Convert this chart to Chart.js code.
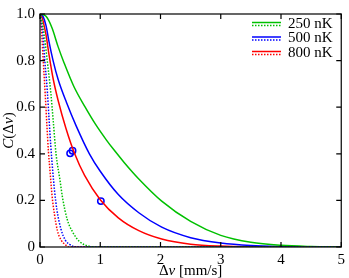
<!DOCTYPE html>
<html lang="en">
<head>
    <meta charset="UTF-8">
    <title>C(Δv) correlation</title>
    <script src="https://cdn.jsdelivr.net/npm/chart.js@4.4.1/dist/chart.umd.min.js"></script>
    <style>
        body { margin: 0; background: #fff; }
        #wrap { width: 349px; height: 278px; }
    </style>
</head>
<body>
    <div id="wrap"><canvas id="chart"></canvas></div>

    <script>
        // legend labels
        const tempLabels = ['250 nK', '500 nK', '800 nK'];

        // solid curves, Δv in mm/s
        const solid250X = [0, 0.1, 0.2, 0.3, 0.4, 0.56, 0.75, 0.92, 1.1, 1.23, 1.4, 1.64, 2.02, 2.5, 3.0, 3.5, 4.0, 4.5, 5.0];
        const solid250Y = [1, 0.99, 0.94, 0.86, 0.79, 0.69, 0.6, 0.527, 0.46, 0.416, 0.362, 0.292, 0.197, 0.11, 0.05, 0.02, 0.007, 0.002, 0];
        const solid500X = [0, 0.05, 0.1, 0.15, 0.217, 0.3, 0.44, 0.6, 0.82, 1.0, 1.3, 1.64, 2.02, 2.5, 3.0, 3.5, 4.0, 5.0];
        const solid500Y = [1, 0.99, 0.95, 0.88, 0.8, 0.72, 0.62, 0.52, 0.4, 0.325, 0.225, 0.147, 0.085, 0.04, 0.017, 0.006, 0.002, 0];
        const solid800X = [0, 0.03, 0.06, 0.1, 0.15, 0.22, 0.3, 0.43, 0.576, 0.74, 1.0, 1.3, 1.64, 2.02, 2.5, 3.0, 4.0, 5.0];
        const solid800Y = [1, 0.99, 0.96, 0.91, 0.825, 0.72, 0.63, 0.51, 0.4, 0.307, 0.203, 0.125, 0.07, 0.034, 0.012, 0.004, 0, 0];

        // dotted curves
        const dot250X = [0, 0.03, 0.07, 0.12, 0.18, 0.22, 0.266, 0.33, 0.375, 0.45, 0.54, 0.65, 0.8, 1.0, 5.0];
        const dot250Y = [1, 0.97, 0.91, 0.8, 0.66, 0.54, 0.4, 0.29, 0.21, 0.12, 0.065, 0.025, 0.004, 0, 0];
        const dot500X = [0, 0.02, 0.05, 0.08, 0.124, 0.15, 0.18, 0.21, 0.24, 0.28, 0.35, 0.42, 0.5, 0.6, 5.0];
        const dot500Y = [1, 0.97, 0.91, 0.8, 0.66, 0.55, 0.43, 0.33, 0.245, 0.16, 0.075, 0.03, 0.01, 0, 0];
        const dot800X = [0, 0.015, 0.03, 0.054, 0.09, 0.115, 0.14, 0.168, 0.2, 0.24, 0.29, 0.35, 0.42, 0.48, 5.0];
        const dot800Y = [1, 0.97, 0.91, 0.8, 0.64, 0.52, 0.41, 0.32, 0.22, 0.14, 0.069, 0.03, 0.01, 0, 0];

        // measured points
        const markX = [0.50, 0.54, 1.01];
        const markY = [0.402, 0.413, 0.197];

        const xTicks = [0, 1, 2, 3, 4, 5];
        const yTicks = [0, 0.2, 0.4, 0.6, 0.8, 1];

        const colors = ['#00c000', '#0000ff', '#ff0000'];
        const FONT = 'Liberation Serif';
        const DOTS = [1.5, 1.5];

        function pts(xs, ys) {
            return xs.map((x, i) => ({ x: x, y: ys[i] }));
        }

        function curve(xs, ys, color, dotted) {
            return {
                type: 'line',
                data: pts(xs, ys),
                borderColor: color,
                borderWidth: 1.5,
                borderDash: dotted ? DOTS : [],
                pointRadius: 0,
                cubicInterpolationMode: 'monotone',
                fill: false
            };
        }

        // box, inward ticks, axis titles and legend
        const framePlugin = {
            id: 'frame',
            afterDraw(chart) {
                const ctx = chart.ctx;
                const a = chart.chartArea;
                const sx = chart.scales.x, sy = chart.scales.y;
                ctx.save();
                ctx.strokeStyle = '#000';
                ctx.lineWidth = 1.2;
                ctx.strokeRect(a.left, a.top, a.right - a.left, a.bottom - a.top);
                ctx.beginPath();
                xTicks.forEach(v => {
                    const px = sx.getPixelForValue(v);
                    ctx.moveTo(px, a.bottom); ctx.lineTo(px, a.bottom - 5);
                    ctx.moveTo(px, a.top); ctx.lineTo(px, a.top + 5);
                });
                yTicks.forEach(v => {
                    const py = sy.getPixelForValue(v);
                    ctx.moveTo(a.left, py); ctx.lineTo(a.left + 5, py);
                    ctx.moveTo(a.right, py); ctx.lineTo(a.right - 5, py);
                });
                ctx.stroke();

                // mixed upright / italic text
                function rich(parts, x, y) {
                    let w = 0;
                    parts.forEach(p => {
                        ctx.font = (p[1] ? 'italic ' : '') + '15px "' + FONT + '"';
                        w += ctx.measureText(p[0]).width;
                    });
                    let cx = x - w / 2;
                    parts.forEach(p => {
                        ctx.font = (p[1] ? 'italic ' : '') + '15px "' + FONT + '"';
                        ctx.fillText(p[0], cx, y);
                        cx += ctx.measureText(p[0]).width;
                    });
                }
                ctx.fillStyle = '#000';
                ctx.textBaseline = 'middle';
                ctx.textAlign = 'left';
                rich([['Δ', false], ['v', true], [' [mm/s]', false]], (a.left + a.right) / 2, 271);
                ctx.save();
                ctx.translate(9, (a.top + a.bottom) / 2);
                ctx.rotate(-Math.PI / 2);
                rich([['C', true], ['(Δ', false], ['v', true], [')', false]], 0, 0);
                ctx.restore();

                // legend: solid and dotted sample per temperature
                tempLabels.forEach((lab, i) => {
                    const cy = 24 + i * 14.5;
                    ctx.strokeStyle = colors[i];
                    ctx.lineWidth = 1.5;
                    ctx.setLineDash([]);
                    ctx.beginPath();
                    ctx.moveTo(252, cy - 1.5); ctx.lineTo(281, cy - 1.5);
                    ctx.stroke();
                    ctx.setLineDash(DOTS);
                    ctx.beginPath();
                    ctx.moveTo(252, cy + 1.5); ctx.lineTo(281, cy + 1.5);
                    ctx.stroke();
                    ctx.setLineDash([]);
                    ctx.font = '15px "' + FONT + '"';
                    ctx.fillStyle = '#000';
                    ctx.fillText(lab, 288, cy);
                });
                ctx.restore();
            }
        };

        new Chart(document.getElementById('chart'), {
            type: 'line',
            data: {
                datasets: [
                    curve(dot250X, dot250Y, colors[0], true),
                    curve(dot500X, dot500Y, colors[1], true),
                    curve(dot800X, dot800Y, colors[2], true),
                    curve(solid250X, solid250Y, colors[0], false),
                    curve(solid500X, solid500Y, colors[1], false),
                    curve(solid800X, solid800Y, colors[2], false),
                    {
                        type: 'scatter',
                        data: pts(markX, markY),
                        pointRadius: 3.2,
                        pointBorderWidth: 1.5,
                        pointBorderColor: '#0000ff',
                        pointBackgroundColor: 'rgba(0,0,0,0)',
                        showLine: false
                    }
                ]
            },
            options: {
                responsive: true,
                maintainAspectRatio: false,
                animation: false,
                layout: { padding: { top: 5, right: 3, left: 0, bottom: 0 } },
                plugins: { legend: { display: false }, tooltip: { enabled: false } },
                scales: {
                    x: {
                        type: 'linear',
                        min: 0,
                        max: 5,
                        grid: { display: false, drawTicks: false },
                        border: { display: false },
                        ticks: {
                            stepSize: 1,
                            padding: 4,
                            color: '#000',
                            font: { family: FONT, size: 15 }
                        },
                        afterFit(scale) { scale.height = 31; }
                    },
                    y: {
                        min: 0,
                        max: 1,
                        grid: { display: false, drawTicks: false },
                        border: { display: false },
                        ticks: {
                            stepSize: 0.2,
                            padding: 5,
                            color: '#000',
                            font: { family: FONT, size: 15 }
                        },
                        afterFit(scale) { scale.width = 40; }
                    }
                }
            },
            plugins: [framePlugin]
        });
    </script>
</body>
</html>
